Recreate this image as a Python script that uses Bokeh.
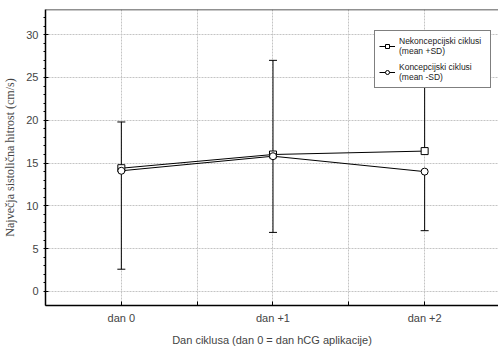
from bokeh.plotting import figure
from bokeh.models import (ColumnDataSource, Whisker, TeeHead, FixedTicker, Span,
                          Legend, LegendItem)
from bokeh.embed import file_html
from bokeh.resources import INLINE

days = ["dan 0", "dan +1", "dan +2"]
x_pos = [0, 1, 2]
nekon_mean = [14.4, 16.0, 16.4]
nekon_sd = [5.4, 11.0, 10.0]
kon_mean = [14.1, 15.8, 14.0]
kon_sd = [11.5, 8.9, 6.9]

nekon_upper = [m + s for m, s in zip(nekon_mean, nekon_sd)]
kon_lower = [m - s for m, s in zip(kon_mean, kon_sd)]

src_n = ColumnDataSource(dict(x=x_pos, y=nekon_mean, up=nekon_upper))
src_k = ColumnDataSource(dict(x=x_pos, y=kon_mean, lo=kon_lower))

Y0, Y1 = -1.64, 32.94
p = figure(width=498, height=351, output_backend="svg", toolbar_location=None,
           x_range=(-0.5, 2.487), y_range=(Y0, Y1),
           min_border_left=44, min_border_right=0, min_border_top=9, min_border_bottom=46)
p.outline_line_color = None
p.background_fill_color = "white"
p.border_fill_color = "white"

# grid
p.xgrid.ticker = FixedTicker(ticks=[0, 0.5, 1, 1.5, 2])
p.ygrid.ticker = FixedTicker(ticks=[0, 5, 10, 15, 20, 25, 30])
for g in (p.xgrid, p.ygrid):
    g.grid_line_color = "#c4c4c4"
    g.grid_line_dash = "2 1"
    g.grid_line_width = 1

# axes
xa = p.xaxis[0]
xa.ticker = FixedTicker(ticks=[-0.5, 0, 0.5, 1, 1.5, 2])
xa.major_label_overrides = {-0.5: "", 0: days[0], 0.5: "", 1: days[1], 1.5: "", 2: days[2]}
xa.major_tick_in = 4
xa.major_tick_out = 0
xa.minor_tick_line_color = None
xa.axis_line_width = 1.5
xa.axis_label = "Dan ciklusa (dan 0 = dan hCG aplikacije)"
xa.axis_label_text_font = "Liberation Sans"
xa.axis_label_text_font_size = "11px"
xa.axis_label_text_font_style = "normal"
xa.axis_label_standoff = 7
xa.major_label_text_font = "Liberation Sans"
xa.major_label_text_font_size = "11px"
xa.major_label_standoff = 6

ya = p.yaxis[0]
ya.ticker = FixedTicker(ticks=[0, 5, 10, 15, 20, 25, 30],
                        minor_ticks=list(range(0, 33)))
ya.major_tick_in = 3
ya.major_tick_out = 0
ya.minor_tick_in = 0
ya.minor_tick_out = 2
ya.axis_line_width = 1.5
ya.axis_label = "Največja sistolična hitrost (cm/s)"
ya.axis_label_text_font = "Liberation Serif"
ya.axis_label_text_font_size = "12px"
ya.axis_label_text_font_style = "normal"
ya.axis_label_standoff = 6
ya.major_label_text_font = "Liberation Sans"
ya.major_label_text_font_size = "11px"
ya.major_label_standoff = 5

p.add_layout(Span(location=Y1, dimension="width", line_color="#222222", line_width=1.5))

# error bars
p.add_layout(Whisker(source=src_n, base="x", lower="y", upper="up",
                     line_color="black", line_width=1,
                     upper_head=TeeHead(size=8, line_color="black", line_width=1),
                     lower_head=None))
p.add_layout(Whisker(source=src_k, base="x", lower="lo", upper="y",
                     line_color="black", line_width=1,
                     lower_head=TeeHead(size=8, line_color="black", line_width=1),
                     upper_head=None))

ln_n = p.line("x", "y", source=src_n, line_color="black", line_width=1)
sc_n = p.scatter("x", "y", source=src_n, marker="square", size=7,
                 fill_color="white", line_color="black", line_width=1)
ln_k = p.line("x", "y", source=src_k, line_color="black", line_width=1)
sc_k = p.scatter("x", "y", source=src_k, marker="circle", size=7,
                 fill_color="white", line_color="black", line_width=1)

legend = Legend(items=[
    LegendItem(label="Nekoncepcijski ciklusi\n(mean +SD)", renderers=[ln_n, sc_n]),
    LegendItem(label="Koncepcijski ciklusi\n(mean -SD)", renderers=[ln_k, sc_k]),
], location=(329, 217))
legend.label_text_font = "Liberation Sans"
legend.label_text_font_size = "8.5px"
legend.label_text_color = "#222222"
legend.label_height = 22
legend.label_width = 87
legend.label_standoff = 4
legend.glyph_width = 16
legend.glyph_height = 10
legend.spacing = 4
legend.padding = 4
legend.margin = 0
legend.border_line_color = "black"
legend.border_line_width = 1.5
legend.background_fill_alpha = 1
p.add_layout(legend)

open("out.html", "w").write(file_html(p, INLINE))
